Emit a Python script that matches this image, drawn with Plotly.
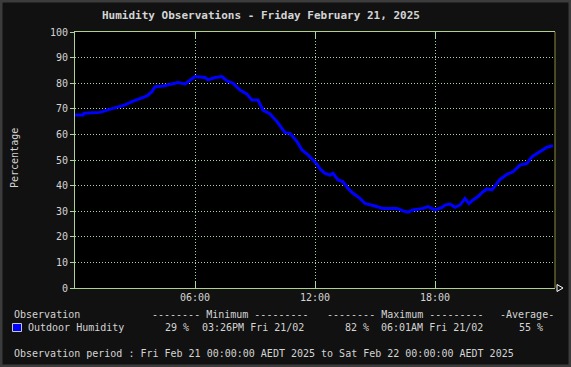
import plotly.graph_objects as go

# ---- data ----
hours = [0.0, 0.4, 0.45, 1.25, 1.6, 2.0, 2.5, 2.85, 3.25, 3.6, 3.85, 4.0, 4.4, 4.75, 5.15, 5.5,
         5.75, 6.0, 6.5, 6.65, 7.0, 7.35, 7.6, 7.9, 8.25, 8.6, 8.85, 9.15, 9.4, 9.75, 10.1,
         10.5, 10.75, 11.1, 11.35, 11.65, 11.9, 12.1, 12.25, 12.5, 12.75, 12.9, 13.15, 13.4,
         13.65, 13.9, 14.25, 14.5, 14.9, 15.4, 16.1, 16.4, 16.65, 16.9, 17.15, 17.4, 17.65,
         18.0, 18.35, 18.5, 18.75, 19.0, 19.25, 19.5, 19.7, 19.9, 20.15, 20.4, 20.6, 20.85,
         21.1, 21.25, 21.6, 21.9, 22.25, 22.6, 22.85, 23.1, 23.35, 23.6, 23.9]
humidity = [67.6, 67.6, 68.3, 68.6, 69.5, 70.5, 71.5, 72.8, 74.0, 75.0, 76.7, 78.6, 78.9, 79.6,
            80.3, 79.7, 81.2, 82.6, 82.2, 81.3, 82.2, 82.6, 80.9, 80.0, 77.3, 75.7, 73.4, 73.4,
            69.5, 68.0, 65.0, 60.7, 60.4, 57.2, 53.9, 52.0, 50.0, 48.4, 46.5, 44.8, 44.1, 44.8,
            42.2, 41.5, 38.9, 37.0, 35.0, 33.0, 32.2, 31.1, 31.1, 30.1, 29.6, 30.5, 30.8, 31.1,
            31.8, 30.5, 31.5, 32.4, 32.8, 31.5, 32.4, 35.0, 33.0, 34.4, 35.7, 37.6, 38.7, 38.3,
            40.9, 42.4, 44.4, 45.4, 48.0, 48.7, 51.3, 52.6, 53.6, 55.0, 55.6]

x_tickvals = [6, 12, 18]
x_ticktext = ["06:00", "12:00", "18:00"]
y_tickvals = [0, 10, 20, 30, 40, 50, 60, 70, 80, 90, 100]

title_text = "Humidity Observations - Friday February 21, 2025"
y_title = "Percentage"
series_name = "Outdoor Humidity"
hdr_obs = "Observation"
hdr_min = "-------- Minimum ---------"
hdr_max = "-------- Maximum ---------"
hdr_avg = "-Average-"
min_val = "29 %"
min_time = "03:26PM Fri 21/02"
max_val = "82 %"
max_time = "06:01AM Fri 21/02"
avg_val = "55 %"
period_text = "Observation period : Fri Feb 21 00:00:00 AEDT 2025 to Sat Feb 22 00:00:00 AEDT 2025"

# ---- layout geometry (pixels) ----
W, H = 571, 367
L, R, T, B = 75, 555, 32, 288
PW, PH = R - L, B - T


def px(xp):
    return (xp - L) / PW


def py(yp):
    return (B - yp) / PH


MONO = "DejaVu Sans Mono"
TXT = "#d4d4d4"
GRID = "#a8d8a0"
AXIS = "#b0d090"

fig = go.Figure()
fig.add_trace(go.Scatter(x=hours, y=humidity, mode="lines",
                         line=dict(color="#0000ff", width=3), showlegend=False,
                         hoverinfo="skip"))

anns = []


def txt(s, xp, yp, anchor="left", size=10, color=TXT, angle=0):
    anns.append(dict(text=s, x=px(xp), y=py(yp), xref="paper", yref="paper",
                     xanchor=anchor, yanchor="middle", showarrow=False,
                     textangle=angle,
                     font=dict(family=MONO, size=size, color=color)))


txt("<b>" + title_text + "</b>", 261, 15, anchor="center", size=11)
txt(y_title, 14, 158, anchor="center", angle=-90)
txt(hdr_obs, 12, 314)
txt(hdr_min, 150, 314)
txt(hdr_max, 325, 314)
txt(hdr_avg, 498, 314)
txt(series_name, 26, 327)
txt(min_val, 163, 327)
txt(min_time, 200, 327)
txt(max_val, 343, 327)
txt(max_time, 379, 327)
txt(avg_val, 517, 327)
txt(period_text, 12, 353)

shapes = [
    # outer border
    dict(type="rect", xref="paper", yref="paper", x0=px(0), x1=px(W), y0=py(0), y1=py(H),
         line=dict(color="#3c3c3c", width=5), fillcolor="rgba(0,0,0,0)", layer="above"),
    # right olive line
    dict(type="line", xref="paper", yref="paper", x0=1, x1=1, y0=0, y1=1,
         line=dict(color="#8c8c3c", width=1), layer="above"),
    # arrow at end of x axis
    dict(type="path", xref="paper", yref="paper",
         path="M {a},{b} L {c},{d} L {a},{e} Z".format(a=px(557), b=py(284.5), c=px(563),
                                                      d=py(288), e=py(291.5)),
         line=dict(color="#ffffff", width=1), fillcolor="rgba(0,0,0,0)", layer="above"),
    # legend swatch
    dict(type="rect", xref="paper", yref="paper", x0=px(12.5), x1=px(21.5), y0=py(323.5),
         y1=py(331.5), fillcolor="#0000ff", line=dict(color="#c8c8c8", width=1), layer="above"),
]

fig.update_layout(
    width=W, height=H,
    margin=dict(l=L, r=W - R, t=T, b=H - B, pad=0),
    paper_bgcolor="#111111", plot_bgcolor="#000000",
    showlegend=False,
    annotations=anns, shapes=shapes,
    xaxis=dict(range=[0, 24], tickvals=x_tickvals, ticktext=x_ticktext,
               showgrid=True, gridcolor=GRID, griddash="1px,2px", gridwidth=1,
               showline=True, linecolor=AXIS, linewidth=1,
               ticks="inside", ticklen=6, tickcolor=GRID, mirror="ticks",
               tickfont=dict(family=MONO, size=10, color=TXT), zeroline=False,
               fixedrange=True),
    yaxis=dict(range=[0, 100], tickvals=y_tickvals,
               showgrid=True, gridcolor=GRID, griddash="1px,2px", gridwidth=1,
               showline=True, linecolor=AXIS, linewidth=1,
               ticks="outside", ticklen=4, tickcolor=GRID,
               tickfont=dict(family=MONO, size=10, color=TXT), zeroline=False,
               fixedrange=True),
)

fig.write_html("out.html", config={"displayModeBar": False},
               post_script="document.body.style.margin='0';document.body.style.overflow='hidden';")
